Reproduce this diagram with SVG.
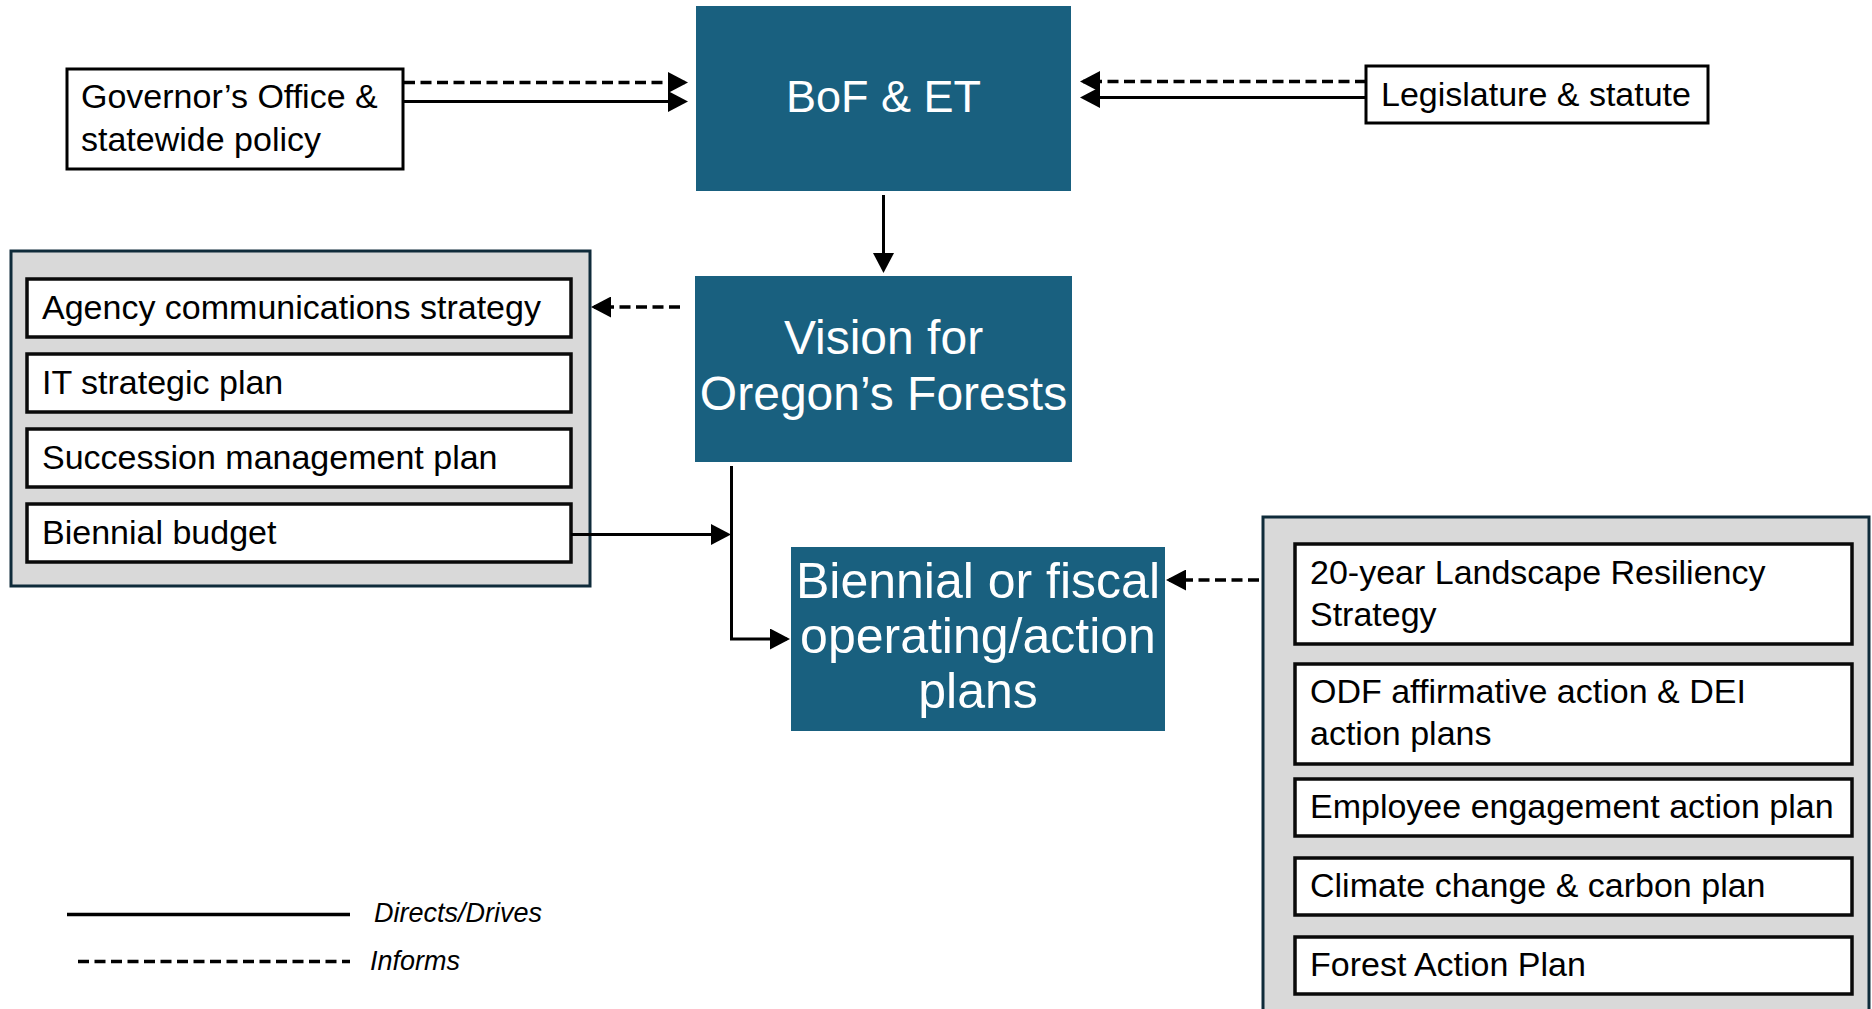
<svg xmlns="http://www.w3.org/2000/svg" width="1872" height="1009" viewBox="0 0 1872 1009">
<style>
text{font-family:"Liberation Sans",Arial,sans-serif;fill:#000}
.blue rect{fill:#19607f}
.blue text{fill:#fff;font-size:48px;text-anchor:middle}
.plain{fill:#fff;stroke:#000;stroke-width:3}
.item{fill:#fff;stroke:#0a0a0a;stroke-width:3.5}
.grp{fill:#d9d9d9;stroke:#0f2b3a;stroke-width:3}
.t34{font-size:34px}
.solid{fill:none;stroke:#000;stroke-width:3}
.dash{fill:none;stroke:#000;stroke-width:3.3;stroke-dasharray:11 5.5}
.leg{font-size:27px;font-style:italic}
</style>
<defs>
<marker id="ah" markerUnits="userSpaceOnUse" markerWidth="20" markerHeight="21" viewBox="0 0 20 21" refX="17" refY="10.5" orient="auto">
<path d="M0,0 L20,10.5 L0,21 z" fill="#000"/>
</marker>
</defs>
<rect width="1872" height="1009" fill="#fff"/>

<g id="group-left">
<rect class="grp" x="11" y="251" width="579" height="335"/>
</g>
<g id="group-right">
<rect class="grp" x="1263" y="517" width="606" height="520"/>
</g>

<g id="governor">
<rect class="plain" x="67" y="69" width="336" height="100"/>
<text class="t34" x="81" y="108">Governor’s Office &amp;</text>
<text class="t34" x="81" y="151">statewide policy</text>
</g>
<g id="legislature">
<rect class="plain" x="1366" y="66" width="342" height="57"/>
<text class="t34" x="1381" y="106">Legislature &amp; statute</text>
</g>

<g id="bof" class="blue">
<rect x="696" y="6" width="375" height="185"/>
<text x="883.5" y="112" style="font-size:45px">BoF &amp; ET</text>
</g>
<g id="vision" class="blue">
<rect x="695" y="276" width="377" height="186"/>
<text x="883.5" y="354">Vision for</text>
<text x="883.5" y="410">Oregon’s Forests</text>
</g>
<g id="biennial-plans" class="blue">
<rect x="791" y="547" width="374" height="184"/>
<text x="978" y="598" style="font-size:50px">Biennial or fiscal</text>
<text x="978" y="653" style="font-size:50px">operating/action</text>
<text x="978" y="708" style="font-size:50px">plans</text>
</g>

<g id="agency-comms">
<rect class="item" x="27" y="279" width="544" height="58"/>
<text class="t34" x="42" y="319">Agency communications strategy</text>
</g>
<g id="it-plan">
<rect class="item" x="27" y="354" width="544" height="58"/>
<text class="t34" x="42" y="394">IT strategic plan</text>
</g>
<g id="succession">
<rect class="item" x="27" y="429" width="544" height="58"/>
<text class="t34" x="42" y="469">Succession management plan</text>
</g>
<g id="biennial-budget">
<rect class="item" x="27" y="504" width="544" height="58"/>
<text class="t34" x="42" y="544">Biennial budget</text>
</g>

<g id="landscape">
<rect class="item" x="1295" y="544" width="557" height="100"/>
<text class="t34" x="1310" y="584">20-year Landscape Resiliency</text>
<text class="t34" x="1310" y="626">Strategy</text>
</g>
<g id="odf-dei">
<rect class="item" x="1295" y="664" width="557" height="100"/>
<text class="t34" x="1310" y="703">ODF affirmative action &amp; DEI</text>
<text class="t34" x="1310" y="745">action plans</text>
</g>
<g id="employee">
<rect class="item" x="1295" y="779" width="557" height="57"/>
<text class="t34" x="1310" y="818">Employee engagement action plan</text>
</g>
<g id="climate">
<rect class="item" x="1295" y="858" width="557" height="57"/>
<text class="t34" x="1310" y="897">Climate change &amp; carbon plan</text>
</g>
<g id="forest-action">
<rect class="item" x="1295" y="937" width="557" height="57"/>
<text class="t34" x="1310" y="976">Forest Action Plan</text>
</g>

<g id="connectors">
<path class="dash" d="M404,82.5 H685" marker-end="url(#ah)"/>
<path class="solid" d="M404,101.5 H685" marker-end="url(#ah)"/>
<path class="dash" d="M1366,81.5 H1083" marker-end="url(#ah)"/>
<path class="solid" d="M1366,97.5 H1083" marker-end="url(#ah)"/>
<path class="solid" d="M883.5,195 V270" marker-end="url(#ah)"/>
<path class="dash" d="M680,307 H594" marker-end="url(#ah)"/>
<path class="solid" d="M571,534.5 H728" marker-end="url(#ah)"/>
<path class="solid" d="M731.5,466 V639 H787" marker-end="url(#ah)"/>
<path class="dash" d="M1259,580 H1169" marker-end="url(#ah)"/>
</g>

<g id="legend">
<line class="solid" x1="67" y1="914.5" x2="350" y2="914.5" style="stroke-width:3.5"/>
<text class="leg" x="374" y="922">Directs/Drives</text>
<line class="dash" x1="78" y1="961.5" x2="350" y2="961.5" style="stroke-width:3.5"/>
<text class="leg" x="370" y="970">Informs</text>
</g>
</svg>
